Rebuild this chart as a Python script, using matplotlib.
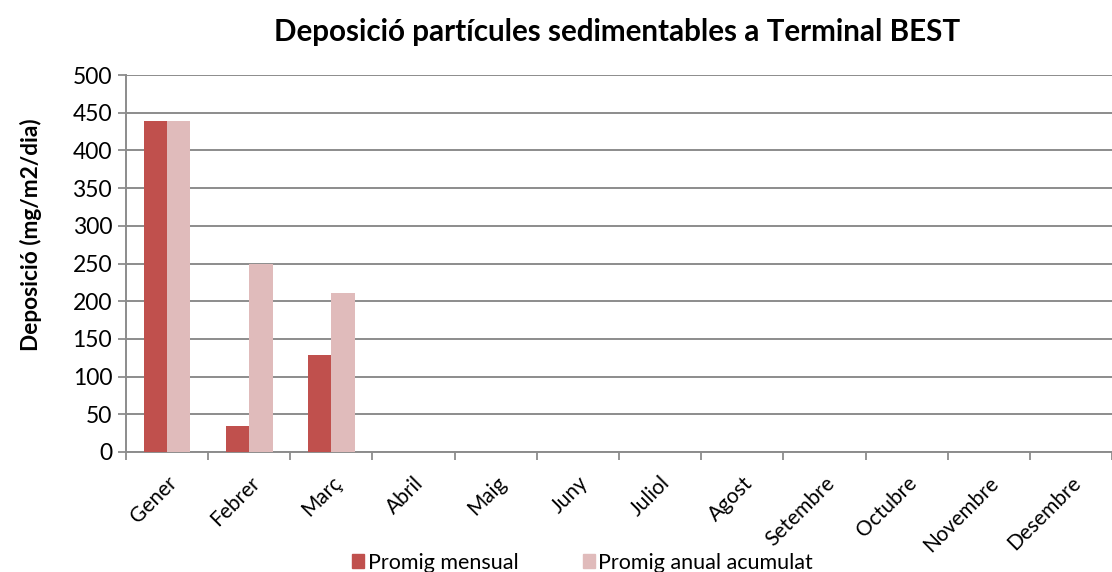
import matplotlib.pyplot as plt
import numpy as np
from matplotlib.patches import Patch

months = ["Gener", "Febrer", "Març", "Abril", "Maig", "Juny", "Juliol",
          "Agost", "Setembre", "Octubre", "Novembre", "Desembre"]
promig_mensual = [439, 35, 128, 0, 0, 0, 0, 0, 0, 0, 0, 0]
promig_acumulat = [439, 249, 211, 0, 0, 0, 0, 0, 0, 0, 0, 0]

DARK = "#C0504D"
LIGHT = "#E0BBBB"
GRID = "#8C8C8C"

plt.rcParams["font.family"] = ["Lato", "DejaVu Sans"]

fig = plt.figure(figsize=(11.12, 5.72), dpi=100)
ax = fig.add_axes([126 / 1112, 1 - 452 / 572, (1112 - 126) / 1112, 377 / 572])

x = np.arange(len(months))
w = 0.283
ax.bar(x - w / 2, promig_mensual, w, color=DARK, zorder=3)
ax.bar(x + w / 2, promig_acumulat, w, color=LIGHT, zorder=3)

ax.set_xlim(-0.5, -0.5 + (1112 - 126) / 82.55)
ax.set_ylim(0, 500)
ax.set_yticks(range(0, 501, 50))
ax.yaxis.grid(True, color=GRID, linewidth=1.4, zorder=0)

ax.set_xticks(x)
ax.set_xticklabels(months, rotation=45, ha="right", rotation_mode="anchor", fontsize=15)
ax.set_xticks(np.arange(-0.5, 12, 1), minor=True)
ax.tick_params(axis="x", which="major", length=0, pad=15)
ax.tick_params(axis="x", which="minor", length=6, color=GRID, width=1.3)
ax.tick_params(axis="y", length=6, color=GRID, width=1.3, labelsize=16.5, pad=4)

for side in ["top", "right"]:
    ax.spines[side].set_visible(False)
for side in ["left", "bottom"]:
    ax.spines[side].set_color(GRID)
    ax.spines[side].set_linewidth(1.4)

ax.set_ylabel("Deposició (mg/m2/dia)", fontsize=16.3, fontweight="bold")
ax.yaxis.set_label_coords(-0.0852, 0.576)
fig.text(0.555, 0.944, "Deposició partícules sedimentables a Terminal BEST",
         ha="center", va="center", fontsize=21.3, fontweight="bold")

handles = [Patch(color=DARK, label="Promig mensual"),
           Patch(color=LIGHT, label="Promig anual acumulat")]
fig.legend(handles=handles, loc="center", bbox_to_anchor=(0.524, 0.0165), ncol=2,
           frameon=False, fontsize=15.5, handlelength=0.56, handleheight=0.56,
           handletextpad=0.15, columnspacing=3.0, borderpad=0.2)

fig.savefig("out.png", dpi=100)
